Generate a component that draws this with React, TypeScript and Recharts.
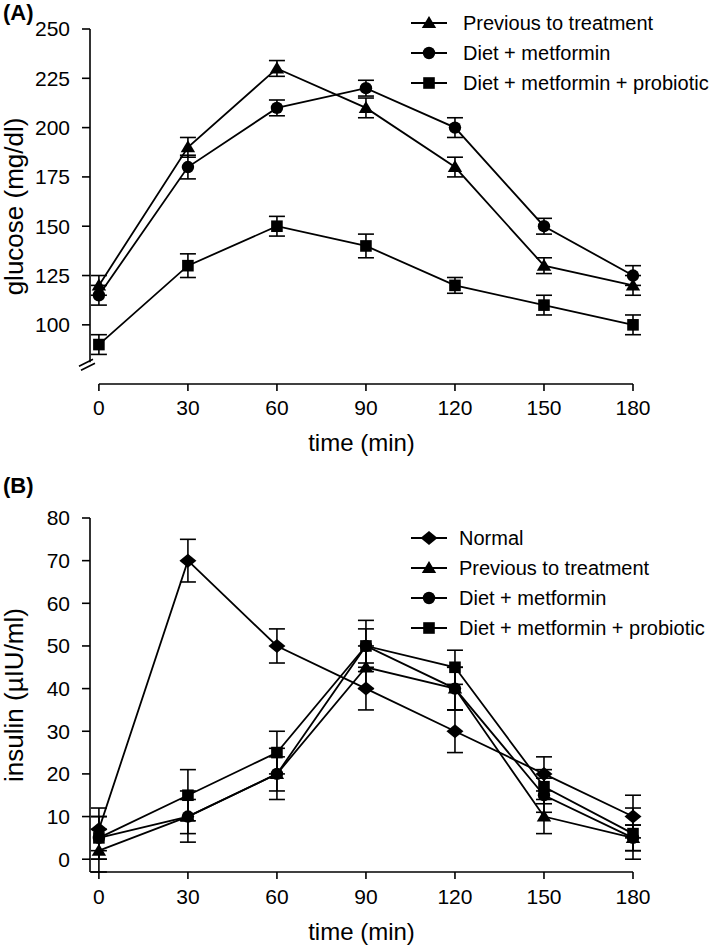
import React from 'react';
import {
  ErrorBar,
  Legend,
  Line,
  LineChart,
  ReferenceDot,
  ReferenceLine,
  XAxis,
  YAxis
} from 'recharts';

const FONT = '"Liberation Sans", Arial, Helvetica, sans-serif';

// x values (min)
const times = [0, 30, 60, 90, 120, 150, 180];
const XMIN = -3;

// (A) glucose, mg/dl
const glucoseTicks = [100, 125, 150, 175, 200, 225, 250];
const glucosePrev = [120, 190, 230, 210, 180, 130, 120];
const glucosePrevErr = [5, 5, 4, 5, 5, 4, 5];
const glucoseMet = [115, 180, 210, 220, 200, 150, 125];
const glucoseMetErr = [5, 6, 4, 4, 5, 4, 5];
const glucosePro = [90, 130, 150, 140, 120, 110, 100];
const glucoseProErr = [5, 6, 5, 6, 4, 5, 5];

// (B) insulin, µIU/ml
const insulinTicks = [0, 10, 20, 30, 40, 50, 60, 70, 80];
const insulinNormal = [7, 70, 50, 40, 30, 20, 10];
const insulinNormalErr = [5, 5, 4, 5, 5, 4, 5];
const insulinPrev = [2, 10, 20, 45, 40, 10, 5];
const insulinPrevErr = [5, 6, 4, 5, 5, 4, 3];
const insulinMet = [5, 10, 20, 50, 40, 15, 5];
const insulinMetErr = [5, 4, 6, 4, 5, 4, 3];
const insulinPro = [5, 15, 25, 50, 45, 17, 6];
const insulinProErr = [5, 6, 5, 6, 4, 4, 6];

type Shape = 'triangle' | 'circle' | 'square' | 'diamond';

const glucoseSeries: { key: string; name: string; shape: Shape }[] = [
  { key: 'prev', name: 'Previous to treatment', shape: 'triangle' },
  { key: 'met', name: 'Diet + metformin', shape: 'circle' },
  { key: 'pro', name: 'Diet + metformin + probiotic', shape: 'square' }
];

const insulinSeries: { key: string; name: string; shape: Shape }[] = [
  { key: 'normal', name: 'Normal', shape: 'diamond' },
  { key: 'prev', name: 'Previous to treatment', shape: 'triangle' },
  { key: 'met', name: 'Diet + metformin', shape: 'circle' },
  { key: 'pro', name: 'Diet + metformin + probiotic', shape: 'square' }
];

const glucoseRows = times.map((t, i) => ({
  time: t,
  prev: glucosePrev[i],
  prevErr: glucosePrevErr[i],
  met: glucoseMet[i],
  metErr: glucoseMetErr[i],
  pro: glucosePro[i],
  proErr: glucoseProErr[i]
}));

const insulinRows = times.map((t, i) => ({
  time: t,
  normal: insulinNormal[i],
  normalErr: insulinNormalErr[i],
  prev: insulinPrev[i],
  prevErr: insulinPrevErr[i],
  met: insulinMet[i],
  metErr: insulinMetErr[i],
  pro: insulinPro[i],
  proErr: insulinProErr[i]
}));

const Marker = ({ shape, cx, cy }: { shape: Shape; cx: number; cy: number }) => {
  if (shape === 'circle') return <circle cx={cx} cy={cy} r={6.2} fill="#000" />;
  if (shape === 'square')
    return <rect x={cx - 5.8} y={cy - 5.8} width={11.6} height={11.6} fill="#000" />;
  if (shape === 'triangle')
    return (
      <polygon
        points={`${cx},${cy - 7} ${cx + 7.2},${cy + 5} ${cx - 7.2},${cy + 5}`}
        fill="#000"
      />
    );
  return (
    <polygon
      points={`${cx},${cy - 7} ${cx + 8.5},${cy} ${cx},${cy + 7} ${cx - 8.5},${cy}`}
      fill="#000"
    />
  );
};

const dotFor = (shape: Shape, name: string) => (props: any) => (
  <Marker key={`${name}-${props.index}`} shape={shape} cx={props.cx} cy={props.cy} />
);

const LegendBox = ({
  items,
  textLeft
}: {
  items: { name: string; shape: Shape }[];
  textLeft: number;
}) => (
  <div style={{ fontFamily: FONT, fontSize: 20, color: '#000', textAlign: 'left' }}>
    {items.map((it) => (
      <div key={it.name} style={{ display: 'flex', alignItems: 'center', height: 30 }}>
        <svg width={textLeft} height={30} style={{ flex: 'none' }}>
          <line x1={6} y1={15} x2={42} y2={15} stroke="#000" strokeWidth={1.8} />
          <Marker shape={it.shape} cx={24} cy={15} />
        </svg>
        <span style={{ whiteSpace: 'nowrap' }}>{it.name}</span>
      </div>
    ))}
  </div>
);

const BreakMark = ({ cx, cy }: { cx: number; cy: number }) => (
  <g stroke="#000" strokeWidth={1.6}>
    <line x1={cx - 11} y1={cy + 2} x2={cx + 3} y2={cy - 5} />
    <line x1={cx - 9} y1={cy + 6} x2={cx + 5} y2={cy - 1} />
  </g>
);

const tickStyle = { fill: '#000', fontSize: 21, fontFamily: FONT };
const xTitleStyle = { fill: '#000', fontSize: 24, fontFamily: FONT };
const yTitleStyle = { fill: '#000', fontSize: 26, fontFamily: FONT };
const tickLine = { stroke: '#000', strokeWidth: 1.6 };

const seriesLines = (series: { key: string; name: string; shape: Shape }[]) =>
  series.map((s) => (
    <Line
      key={s.key}
      dataKey={s.key}
      name={s.name}
      type="linear"
      stroke="#000"
      strokeWidth={1.8}
      dot={dotFor(s.shape, s.key)}
      activeDot={false}
      isAnimationActive={false}
    >
      <ErrorBar dataKey={`${s.key}Err`} width={8} stroke="#000" strokeWidth={1.6} direction="y" />
    </Line>
  ));

const panelLabel: React.CSSProperties = {
  position: 'absolute',
  left: 3,
  fontFamily: FONT,
  fontWeight: 'bold',
  fontSize: 22,
  color: '#000'
};

export default function App() {
  return (
    <div style={{ position: 'absolute', left: 0, top: 0, width: 709, height: 945, background: '#fff' }}>
      <div style={{ ...panelLabel, top: 0 }}>(A)</div>
      <div style={{ ...panelLabel, top: 473 }}>(B)</div>

      <LineChart width={709} height={470} data={glucoseRows} margin={{ top: 29, right: 76, left: 0, bottom: 0 }}>
        <XAxis
          dataKey="time"
          type="number"
          domain={[XMIN, 180]}
          ticks={times}
          axisLine={false}
          tickLine={tickLine}
          tickSize={7}
          tickMargin={9}
          height={86}
          tick={tickStyle}
          label={{ value: 'time (min)', position: 'insideBottom', offset: 19, ...xTitleStyle }}
        />
        <YAxis
          type="number"
          domain={[70, 250]}
          ticks={glucoseTicks}
          axisLine={false}
          tickLine={tickLine}
          tickSize={8}
          tickMargin={12}
          width={90}
          tick={tickStyle}
          label={{
            value: 'glucose (mg/dl)',
            angle: -90,
            position: 'insideLeft',
            offset: 14,
            style: { textAnchor: 'middle' },
            ...yTitleStyle
          }}
        />
        <ReferenceLine
          segment={[{ x: 0, y: 70 }, { x: 180, y: 70 }]}
          stroke="#000"
          strokeWidth={1.6}
          ifOverflow="visible"
        />
        <ReferenceLine
          segment={[{ x: XMIN, y: 81 }, { x: XMIN, y: 250 }]}
          stroke="#000"
          strokeWidth={1.6}
          ifOverflow="visible"
        />
        <ReferenceDot
          x={XMIN}
          y={80}
          r={0}
          ifOverflow="visible"
          shape={(p: any) => <BreakMark cx={p.cx} cy={p.cy} />}
        />
        <Legend
          layout="vertical"
          verticalAlign="middle"
          align="center"
          wrapperStyle={{ top: 8, left: 405, width: 300 }}
          content={() => <LegendBox items={glucoseSeries} textLeft={58} />}
        />
        {seriesLines(glucoseSeries)}
      </LineChart>

      <LineChart width={709} height={475} data={insulinRows} margin={{ top: 48, right: 76, left: 0, bottom: 0 }}>
        <XAxis
          dataKey="time"
          type="number"
          domain={[XMIN, 180]}
          ticks={times}
          axisLine={tickLine}
          tickLine={tickLine}
          tickSize={7}
          tickMargin={10}
          height={73}
          tick={tickStyle}
          label={{ value: 'time (min)', position: 'insideBottom', offset: 5, ...xTitleStyle }}
        />
        <YAxis
          type="number"
          domain={[0, 80]}
          ticks={insulinTicks}
          axisLine={tickLine}
          tickLine={tickLine}
          tickSize={8}
          tickMargin={12}
          width={90}
          tick={tickStyle}
          label={{
            value: 'insulin (µIU/ml)',
            angle: -90,
            position: 'insideLeft',
            offset: 14,
            style: { textAnchor: 'middle' },
            ...yTitleStyle
          }}
        />
        <Legend
          layout="vertical"
          verticalAlign="middle"
          align="center"
          wrapperStyle={{ top: 53, left: 405, width: 300 }}
          content={() => <LegendBox items={insulinSeries} textLeft={54} />}
        />
        {seriesLines(insulinSeries)}
      </LineChart>
    </div>
  );
}
